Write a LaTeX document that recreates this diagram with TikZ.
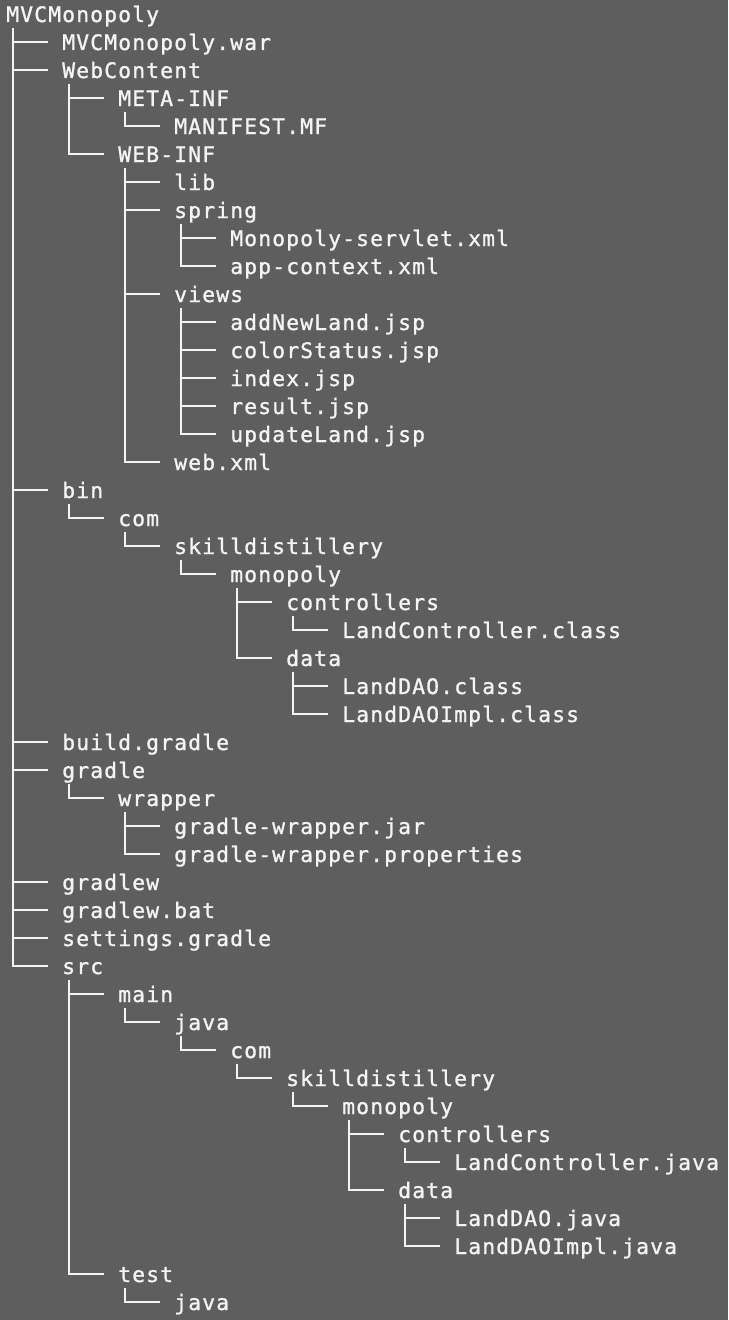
\documentclass[tikz,border=0pt]{standalone}
\usepackage{fontspec}
\setmonofont[LetterSpace=5.4,FakeBold=1.2]{DejaVu Sans Mono}
\definecolor{termbg}{HTML}{5E5E5E}
\definecolor{termfg}{HTML}{F4F4F4}
\tikzset{
  entry/.style={anchor=base west, inner sep=0pt, text=termfg,
    font=\ttfamily\fontsize{16}{19}\selectfont},
  branch/.style={draw=termfg, line width=1.5pt},
}
\begin{document}
\begin{tikzpicture}[x=0.75pt,y=-0.75pt]
  \fill [termbg] (0,0) rectangle (728,1320);
  % root
  \node [entry] (mvc) at (6,22) {MVCMonopoly};
  \node [entry] (war) at (62,50) {MVCMonopoly.war};
  \node [entry] (webcontent) at (62,78) {WebContent};
  \node [entry] (metainf) at (118,106) {META-INF};
  \node [entry] (manifest) at (174,134) {MANIFEST.MF};
  \node [entry] (webinf) at (118,162) {WEB-INF};
  \node [entry] (lib) at (174,190) {lib};
  \node [entry] (spring) at (174,218) {spring};
  \node [entry] (servlet) at (230,246) {Monopoly-servlet.xml};
  \node [entry] (appctx) at (230,274) {app-context.xml};
  \node [entry] (views) at (174,302) {views};
  \node [entry] (addland) at (230,330) {addNewLand.jsp};
  \node [entry] (colorstatus) at (230,358) {colorStatus.jsp};
  \node [entry] (index) at (230,386) {index.jsp};
  \node [entry] (result) at (230,414) {result.jsp};
  \node [entry] (updateland) at (230,442) {updateLand.jsp};
  \node [entry] (webxml) at (174,470) {web.xml};
  % bin
  \node [entry] (bin) at (62,498) {bin};
  \node [entry] (bincom) at (118,526) {com};
  \node [entry] (binskill) at (174,554) {skilldistillery};
  \node [entry] (binmono) at (230,582) {monopoly};
  \node [entry] (binctrl) at (286,610) {controllers};
  \node [entry] (binlandctrl) at (342,638) {LandController.class};
  \node [entry] (bindata) at (286,666) {data};
  \node [entry] (binlanddao) at (342,694) {LandDAO.class};
  \node [entry] (binlanddaoimpl) at (342,722) {LandDAOImpl.class};
  % gradle
  \node [entry] (build) at (62,750) {build.gradle};
  \node [entry] (gradle) at (62,778) {gradle};
  \node [entry] (wrapper) at (118,806) {wrapper};
  \node [entry] (wrapjar) at (174,834) {gradle-wrapper.jar};
  \node [entry] (wrapprops) at (174,862) {gradle-wrapper.properties};
  \node [entry] (gradlew) at (62,890) {gradlew};
  \node [entry] (gradlewbat) at (62,918) {gradlew.bat};
  \node [entry] (settings) at (62,946) {settings.gradle};
  % src
  \node [entry] (src) at (62,974) {src};
  \node [entry] (main) at (118,1002) {main};
  \node [entry] (mainjava) at (174,1030) {java};
  \node [entry] (maincom) at (230,1058) {com};
  \node [entry] (mainskill) at (286,1086) {skilldistillery};
  \node [entry] (mainmono) at (342,1114) {monopoly};
  \node [entry] (mainctrl) at (398,1142) {controllers};
  \node [entry] (mainlandctrl) at (454,1170) {LandController.java};
  \node [entry] (maindata) at (398,1198) {data};
  \node [entry] (mainlanddao) at (454,1226) {LandDAO.java};
  \node [entry] (mainlanddaoimpl) at (454,1254) {LandDAOImpl.java};
  \node [entry] (test) at (118,1282) {test};
  \node [entry] (testjava) at (174,1310) {java};
  % branches
  \foreach \p/\c in {mvc/war, mvc/webcontent, webcontent/metainf,
      metainf/manifest, webcontent/webinf, webinf/lib, webinf/spring,
      spring/servlet, spring/appctx, webinf/views, views/addland,
      views/colorstatus, views/index, views/result, views/updateland,
      webinf/webxml, mvc/bin, bin/bincom, bincom/binskill,
      binskill/binmono, binmono/binctrl, binctrl/binlandctrl,
      binmono/bindata, bindata/binlanddao, bindata/binlanddaoimpl,
      mvc/build, mvc/gradle, gradle/wrapper, wrapper/wrapjar,
      wrapper/wrapprops, mvc/gradlew, mvc/gradlewbat, mvc/settings,
      mvc/src, src/main, main/mainjava, mainjava/maincom,
      maincom/mainskill, mainskill/mainmono, mainmono/mainctrl,
      mainctrl/mainlandctrl, mainmono/maindata, maindata/mainlanddao,
      maindata/mainlanddaoimpl, src/test, test/testjava}
    \draw [branch] ([shift={(7,6)}]\p.base west) |- ([shift={(-14,-8)}]\c.base west);
\end{tikzpicture}
\end{document}
